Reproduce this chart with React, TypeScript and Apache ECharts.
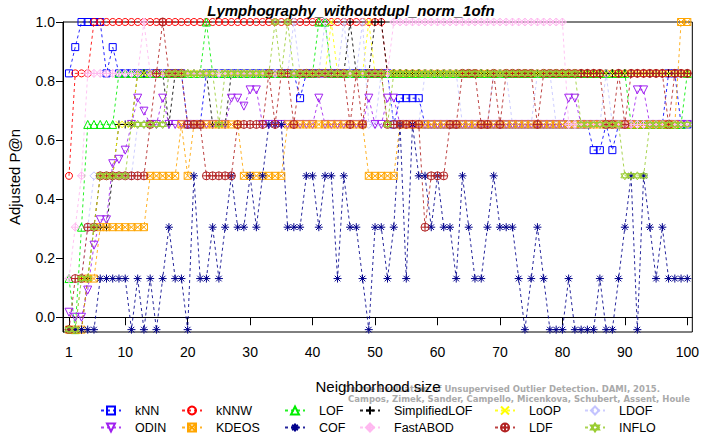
import React, { useEffect, useRef } from "react";
import * as echarts from "echarts";

// Adjusted P@n levels (6 outliers)
const L0 = -0.042, L1 = 0.131, L2 = 0.305, L3 = 0.479, L4 = 0.653, L5 = 0.826, L6 = 1.0;

const neighborhoodSizes = Array.from({ length: 100 }, (_, i) => i + 1);
const xTicks = [1, 10, 20, 30, 40, 50, 60, 70, 80, 90, 100];
const yTicks = [0, 0.2, 0.4, 0.6, 0.8, 1.0];

const kNN = [
  L5, 0.915, L6, L6, L6, L6, L5, 0.915, L5, L5,
  L5, L5, L5, L5, L5, L5, L5, L5, L5, L4,
  L4, L4, L5, L5, L5, L5, L5, L5, L5, L5,
  L5, L5, L5, L5, L5, L5, L5, 0.742, L5, L5,
  L5, L5, L5, L5, L5, L5, L5, L5, L5, L5,
  L5, L5, L4, 0.742, 0.742, 0.742, 0.742, L4, L4, L4,
  L4, L4, L4, L4, L4, L4, L4, L4, L4, L4,
  L4, L4, L4, L4, L4, L4, L4, L4, L4, L4,
  L4, L4, L4, L4, 0.566, 0.566, L4, 0.566, L4, L4,
  L4, L4, L4, L4, L4, L4, L5, L5, L4, L4,
];
const kNNW = [
  L3, L5, L5, L5, L6, L6, L6, L6, L6, L6,
  L6, L6, L6, L6, L6, L6, L6, L6, L6, L6,
  L6, L6, L6, L6, L6, L6, L6, L6, L6, L6,
  L6, L6, L6, L6, L6, L6, L6, L6, L6, L6,
  L6, L6, L6, L6, L6, L6, L6, L6, L6, L6,
  L6, L5, L5, L5, L5, L5, L5, L5, L5, L5,
  L5, L5, L5, L5, L5, L5, L5, L5, L5, L5,
  L5, L5, L5, L5, L5, L5, L5, L5, L5, L5,
  L5, L5, L5, L5, L5, L5, L5, L5, L5, L5,
  L5, L5, L5, L5, L5, L5, L5, L5, L5, L5,
];
const LOF = [
  L1, L0, L2, L4, L4, L4, L4, L4, L5, L5,
  L5, L5, L5, L5, L5, L5, L5, L5, L5, L5,
  L5, L5, L6, L5, L5, L5, L5, L5, L5, L5,
  L5, L5, L5, L5, L5, L5, L5, L5, L5, L5,
  L6, L6, L5, L5, L5, L5, L5, L5, L5, L5,
  L5, L5, L5, L5, L5, L5, L5, L5, L5, L5,
  L5, L5, L5, L5, L5, L5, L5, L5, L5, L5,
  L5, L5, L5, L5, L5, L5, L5, L5, L5, L5,
  L5, L5, L5, L5, L5, L5, L5, L5, L5, L5,
  L4, L4, L4, L4, L4, L4, L4, L4, L4, L5,
];
const SimplifiedLOF = [
  L0, L0, L0, L1, L2, L2, L2, L3, L4, L4,
  L4, L5, L5, L5, L5, L5, L4, L5, L5, L5,
  L5, L5, L5, L4, L4, L4, L5, L5, L5, L5,
  L5, L5, L5, L5, L5, L5, L5, L5, L5, L5,
  L5, L5, L5, L5, L5, L6, L5, L5, L5, L6,
  L6, L5, L5, L5, L5, L5, L5, L5, L5, L5,
  L5, L5, L5, L5, L5, L5, L5, L5, L5, L5,
  L5, L5, L5, L5, L5, L5, L5, L5, L5, L5,
  L5, L5, L5, L5, L5, L5, L5, L5, L5, L5,
  L5, L5, L5, L5, L5, L5, L5, L5, L5, L5,
];
const LoOP = [
  L0, L0, L1, L1, L2, L3, L3, L3, L4, L4,
  L4, L5, L5, L5, L5, L5, L5, L5, L5, L5,
  L5, L5, L5, L5, L5, L5, L5, L5, L5, L5,
  L5, L5, L5, L5, L5, L5, L5, L5, L5, L5,
  L5, L5, L6, L5, L5, L5, L5, L5, L6, L5,
  L5, L5, L5, L5, L5, L5, L5, L5, L5, L5,
  L5, L5, L5, L5, L5, L5, L5, L5, L5, L5,
  L5, L5, L5, L5, L5, L5, L5, L5, L5, L5,
  L5, L5, L5, L5, L5, L5, L5, L5, L5, L5,
  L5, L5, L5, L5, L5, L5, L5, L5, L5, L5,
];
const LDOF = [
  L0, L0, L1, L2, L3, L3, L3, L3, L3, L3,
  L3, L4, L4, L4, L4, L4, L5, L5, L5, L5,
  L5, L5, L5, L5, L5, L5, L5, L5, L5, L5,
  L5, L5, L5, L5, L5, L5, L6, L5, L5, L5,
  L5, L6, L5, L5, L6, L5, L5, L6, L4, L4,
  L5, L5, L4, L4, L4, L4, L4, L5, L5, L5,
  L5, L5, L5, L4, L4, L4, L4, L4, L5, L5,
  L5, L4, L4, L4, L4, L5, L5, L5, L4, L4,
  L4, L4, L4, L4, L4, L4, L5, L4, L4, L4,
  L4, L4, L4, L4, L4, L4, L4, L4, L4, L4,
];
const ODIN = [
  0.017, 0.0, 0.0, 0.092, 0.244, 0.33, 0.33, 0.52, 0.535, 0.566,
  L4, 0.742, 0.698, L4, L4, 0.742, L4, L4, L4, L4,
  L4, L4, L4, L4, L4, L4, 0.742, 0.742, 0.715, 0.77,
  0.77, L4, L4, L4, L4, L4, L4, L4, L4, L4,
  0.742, L4, L4, L4, L4, L4, L4, L4, 0.742, L4,
  L4, 0.742, 0.742, L4, L4, L4, L4, L4, L4, L4,
  L4, L4, L4, L4, L4, L4, L4, L4, L4, L4,
  L4, L4, L4, L4, L4, L4, L4, L4, L4, L4,
  0.742, 0.742, L4, L4, L4, L4, L4, L4, L4, L4,
  L4, 0.77, 0.77, L4, L4, L4, L4, L4, L4, L4,
];
const KDEOS = [
  L0, L0, L0, L1, L1, L2, L2, L2, L2, L2,
  L2, L2, L2, L3, L3, L3, L3, L3, L4, L3,
  L4, L4, L4, L4, L4, L4, L4, L4, L3, L3,
  L3, L3, L3, L3, L3, L4, L4, L4, L4, L4,
  L4, L4, L4, L4, L4, L4, L4, L4, L3, L3,
  L3, L3, L3, L4, L4, L4, L4, L4, L4, L4,
  L4, L4, L4, L4, L4, L4, L4, L4, L4, L4,
  L4, L4, L4, L4, L4, L4, L4, L4, L4, L4,
  L4, L4, L4, L4, L4, L4, L4, L4, L4, L4,
  L4, L4, L4, L4, L4, L4, L4, L4, L6, L6,
];
const COF = [
  L0, L0, L0, L0, L0, L1, L1, L1, L1, L1,
  L0, L1, L0, L1, L0, L1, L2, L1, L1, L0,
  L3, L1, L1, L2, L1, L2, L3, L2, L2, L3,
  L2, L3, L4, L4, L4, L2, L2, L2, L3, L3,
  L2, L3, L3, L1, L3, L2, L2, L1, L0, L2,
  L2, L1, L2, L4, L1, L4, L3, L3, L2, L3,
  L2, L2, L1, L3, L2, L1, L1, L2, L3, L2,
  L2, L2, L1, L0, L1, L2, L1, L0, L0, L0,
  L1, L0, L0, L0, L0, L1, L0, L0, L1, L2,
  L3, L0, L3, L2, L1, L2, L1, L1, L1, L1,
];
const FastABOD = [
  L1, L2, L3, L5, L5, L5, L5, L5, L5, L5,
  L5, L5, L6, L5, L5, L5, L5, L5, L5, L5,
  L5, L5, L5, L5, L5, L5, L5, L5, L5, L5,
  L5, L5, L5, L5, L5, L5, L5, L5, L5, L5,
  L5, L5, L5, L5, L5, L5, L5, L5, L5, L5,
  L5, L5, L6, L6, L6, L6, L6, L6, L6, L6,
  L6, L6, L6, L6, L6, L6, L6, L6, L6, L6,
  L6, L6, L6, L6, L6, L6, L6, L6, L6, L6,
  L4, L4, L4, L4, L4, L4, L4, L4, L4, L4,
  L4, L4, L4, L4, L4, L4, L4, L4, L4, L4,
];
const LDF = [
  L0, L1, L1, L2, L2, L3, L3, L3, L3, L3,
  L3, L3, L3, L4, L5, L6, L5, L5, L5, L4,
  L4, L4, L3, L3, L3, L3, L3, L4, L4, L4,
  L4, L4, L5, L4, L5, L5, L4, L5, L5, L5,
  L5, L5, L5, L5, L5, L4, L5, L4, L5, L5,
  L5, L4, L4, L4, L4, L4, L4, L2, L3, L3,
  L3, L4, L4, L5, L5, L5, L4, L4, L5, L4,
  L5, L5, L5, L5, L5, L4, L5, L5, L5, L5,
  L5, L5, L5, L5, L5, L5, L4, L4, L5, L4,
  L5, L5, L5, L5, L5, L5, L4, L5, L5, L5,
];
const INFLO = [
  L0, L0, L1, L1, L2, L3, L3, L3, L3, L3,
  L4, L4, L4, L4, L4, L4, L5, L5, L5, L5,
  L5, L5, L5, L5, L4, L5, L5, L5, L5, L5,
  L5, L5, L5, L6, L5, L6, L5, L5, L5, L5,
  L5, L5, L5, L5, L5, L5, L5, L5, L5, L5,
  L5, L4, L5, L5, L5, L5, L5, L5, L5, L5,
  L5, L5, L5, L5, L5, L5, L5, L5, L5, L5,
  L5, L5, L5, L5, L5, L5, L5, L5, L5, L5,
  L5, L5, L4, L4, L4, L4, L4, L4, L4, L3,
  L3, L3, L3, L4, L4, L4, L4, L4, L4, L4,
];

const methodNames = ["kNN", "kNNW", "LOF", "SimplifiedLOF", "LoOP", "LDOF", "ODIN", "KDEOS", "COF", "FastABOD", "LDF", "INFLO"];
const methodValues = [kNN, kNNW, LOF, SimplifiedLOF, LoOP, LDOF, ODIN, KDEOS, COF, FastABOD, LDF, INFLO];
const methodColors = ["#0000FF", "#FF0000", "#00EE00", "#000000", "#FFFF00", "#C4C4FF", "#A020F0", "#FFA500", "#00008B", "#FFB8F0", "#B22222", "#9ACD32"];

const SYM_PLUS = "path://M5,0L5,10M0,5L10,5";
const SYM_X = "path://M0,0L10,10M10,0L0,10";
const SYM_SQX = "path://M0,0L10,0L10,10L0,10ZM0,0L10,10M10,0L0,10";
const SYM_AST = "path://M5,0L5,10M0,5L10,5M1.5,1.5L8.5,8.5M8.5,1.5L1.5,8.5";
const SYM_DPLUS = "path://M5,0L10,5L5,10L0,5ZM5,0L5,10M0,5L10,5";
const SYM_CPLUS = "path://M5,0A5,5,0,1,1,5,10A5,5,0,1,1,5,0ZM5,0L5,10M0,5L10,5";
const SYM_STAR = "path://M5,0L10,7.5L0,7.5ZM5,10L0,2.5L10,2.5Z";
const methodSymbols = ["rect", "circle", "triangle", SYM_PLUS, SYM_X, "diamond", "triangle", SYM_SQX, SYM_AST, SYM_DPLUS, SYM_CPLUS, SYM_STAR];
const methodSymbolSizes = [7, 7, 8, 8, 7, 8, 8, 7, 8, 8, 8, 8];
const methodRotate = [0, 0, 0, 0, 0, 0, 180, 0, 0, 0, 0, 0];

const legendLeft = [100, 181, 284, 359, 494, 584];
const legendTop = [404, 421];

const FONT = '"Liberation Sans", Arial, Helvetica, sans-serif';

export default function App() {
  const ref = useRef<HTMLDivElement>(null);
  useEffect(() => {
    document.body.style.margin = "0";
    const chart = echarts.init(ref.current!, null, { renderer: "svg" });
    const series = methodNames.map((name, i) => ({
      name,
      type: "line",
      data: methodValues[i].map((v, j) => [neighborhoodSizes[j], v]),
      symbol: methodSymbols[i],
      symbolSize: methodSymbolSizes[i],
      symbolRotate: methodRotate[i],
      showAllSymbol: true,
      clip: false,
      silent: true,
      lineStyle: { color: methodColors[i], width: 1, type: [3, 3], opacity: 0.85 },
      itemStyle: { color: "rgba(0,0,0,0)", borderColor: methodColors[i], borderWidth: 1 },
      emphasis: { disabled: true },
    }));
    const legends = methodNames.map((name, i) => ({
      data: [name],
      left: legendLeft[i % 6],
      top: legendTop[Math.floor(i / 6)],
      itemWidth: 20,
      itemHeight: 10,
      padding: 0,
      selectedMode: false,
      textStyle: { color: "#000", fontSize: 12.5, fontFamily: FONT, padding: [0, 0, 0, 9] },
    }));
    chart.setOption({
      animation: false,
      backgroundColor: "#fff",
      grid: { left: 63, right: 9, top: 22, bottom: 102, show: true, borderColor: "#000", borderWidth: 1 },
      xAxis: {
        type: "value",
        min: 0.04,
        max: 100.8,
        splitLine: { show: false },
        axisLine: { lineStyle: { color: "#000", width: 1 } },
        axisTick: { customValues: xTicks, length: 8, lineStyle: { color: "#000" } },
        axisLabel: { customValues: xTicks, margin: 13, fontSize: 14, color: "#000", fontFamily: FONT },
      },
      yAxis: {
        type: "value",
        min: -0.05,
        max: 1.0,
        splitLine: { show: false },
        axisLine: { lineStyle: { color: "#000", width: 1 } },
        axisTick: { customValues: yTicks, length: 7, lineStyle: { color: "#000" } },
        axisLabel: { customValues: yTicks, margin: 8, fontSize: 14, color: "#000", fontFamily: FONT, formatter: (v: number) => v.toFixed(1) },
      },
      legend: legends,
      series,
      graphic: [
        { type: "text", x: 351, y: 10, style: { text: "Lymphography_withoutdupl_norm_1ofn", font: 'italic bold 15px ' + FONT, fill: "#000", textAlign: "center", textVerticalAlign: "middle" } },
        { type: "text", x: 14, y: 177, rotation: Math.PI / 2, style: { text: "Adjusted P@n", font: '15px ' + FONT, fill: "#000", textAlign: "center", textVerticalAlign: "middle" } },
        { type: "text", x: 660, y: 389, style: { text: "On the Evaluation of Unsupervised Outlier Detection. DAMI, 2015.", font: 'bold 8.5px "DejaVu Sans", sans-serif', fill: "#aaaaaa", textAlign: "right", textVerticalAlign: "middle" } },
        { type: "text", x: 690, y: 399, style: { text: "Campos, Zimek, Sander, Campello, Micenkova, Schubert, Assent, Houle", font: 'bold 8.5px "DejaVu Sans", sans-serif', fill: "#aaaaaa", textAlign: "right", textVerticalAlign: "middle" } },
        { type: "text", x: 378, y: 386, style: { text: "Neighborhood size", font: '15px ' + FONT, fill: "#000", textAlign: "center", textVerticalAlign: "middle" } },
      ],
    });
    return () => chart.dispose();
  }, []);
  return <div ref={ref} style={{ width: 702, height: 434 }} />;
}
